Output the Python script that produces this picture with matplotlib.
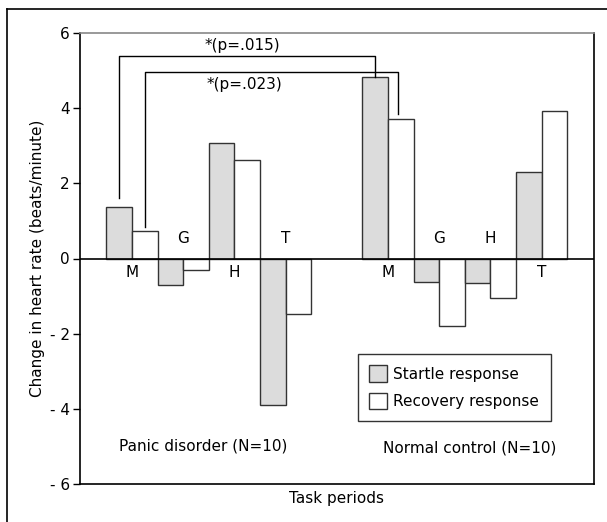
import matplotlib
matplotlib.use("Agg")
import matplotlib.pyplot as plt
from matplotlib.patches import Patch
from matplotlib.lines import Line2D

plt.rcParams['font.family'] = ['DejaVu Sans']

periods = ["M", "G", "H", "T"]
groups = ["Panic disorder (N=10)", "Normal control (N=10)"]
startle_panic = [1.36, -0.71, 3.08, -3.90]
recovery_panic = [0.72, -0.31, 2.63, -1.49]
startle_normal = [4.82, -0.62, -0.65, 2.29]
recovery_normal = [3.72, -1.80, -1.04, 3.93]
p_labels = ["*(p=.015)", "*(p=.023)"]

gray = "#dcdcdc"
edge = "#333333"
fs = 11

fig = plt.figure(figsize=(6.07, 5.22), dpi=100)
W, H = 607, 522
ax = fig.add_axes([79.5 / W, 1 - 484 / H, (594 - 79.5) / W, (484 - 33) / H])

# outer frame (left and top only, cropped in the original)
fig.add_artist(Line2D([7 / W, 7 / W], [0, 1 - 9 / H], color="black", lw=1.2))
fig.add_artist(Line2D([7 / W, 1], [1 - 9 / H, 1 - 9 / H], color="black", lw=1.2))

def draw_group(start, startle, recovery):
    for i in range(4):
        xs = start + 2 * i
        ax.bar(xs, startle[i], width=1, align="edge", color=gray,
               edgecolor=edge, lw=1)
        ax.bar(xs + 1, recovery[i], width=1, align="edge", color="white",
               edgecolor=edge, lw=1)
        if min(startle[i], recovery[i]) >= 0:
            ty = -0.38
        else:
            ty = 0.52
        ax.text(xs + 1, ty, periods[i], ha="center", va="center", fontsize=fs)

draw_group(0, startle_panic, recovery_panic)
draw_group(10, startle_normal, recovery_normal)

ax.axhline(0, color="black", lw=1.2, zorder=3)

# significance brackets
ax.plot([0.5, 0.5, 10.5, 10.5], [1.62, 5.4, 5.4, startle_normal[0]],
        color="black", lw=1)
ax.plot([1.5, 1.5, 11.4, 11.4], [0.85, 4.97, 4.97, 3.85],
        color="black", lw=1)
ax.text(5.3, 5.68, p_labels[0], ha="center", va="center", fontsize=fs)
ax.text(5.4, 4.62, p_labels[1], ha="center", va="center", fontsize=fs)

ax.text(3.8, -5.0, groups[0], ha="center", va="center", fontsize=fs)
ax.text(14.2, -5.05, groups[1], ha="center", va="center", fontsize=fs)

ax.set_xlim(-1.05, 19.05)
ax.set_ylim(-6, 6)
ax.set_yticks([-6, -4, -2, 0, 2, 4, 6])
ax.set_yticklabels(["- 6", "- 4", "- 2", "0", "2", "4", "6"], fontsize=fs)
ax.set_xticks([])
ax.tick_params(axis="y", length=5, width=1, direction="out", pad=2)
ax.spines["top"].set_color("#888888")
ax.spines["top"].set_linewidth(1.2)
for s in ["left", "right", "bottom"]:
    ax.spines[s].set_color("black")
    ax.spines[s].set_linewidth(1.2)

ax.set_xlabel("Task periods", fontsize=fs, labelpad=5)
ax.set_ylabel("Change in heart rate (beats/minute)", fontsize=fs, labelpad=3)

handles = [Patch(facecolor=gray, edgecolor=edge, label="Startle response"),
           Patch(facecolor="white", edgecolor=edge, label="Recovery response")]
leg = ax.legend(handles=handles, loc="upper left",
                bbox_to_anchor=((357.5 - 79.5) / (594 - 79.5), 1 - (354 - 33) / (484 - 33)),
                fontsize=fs, fancybox=False, framealpha=1, edgecolor="#333333",
                handlelength=1.2, handleheight=1.3, borderpad=0.75,
                labelspacing=0.7, handletextpad=0.4, borderaxespad=0)
leg.get_frame().set_linewidth(1)

fig.savefig("out.png", dpi=100)
